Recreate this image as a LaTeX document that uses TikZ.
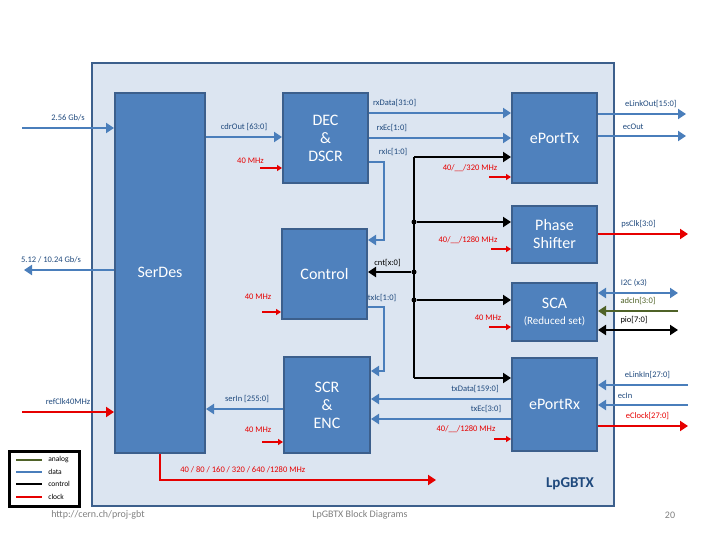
\documentclass[tikz,border=0pt]{standalone}
\usepackage{fontspec}
\setmainfont{Carlito}
\usetikzlibrary{arrows.meta,positioning}
\definecolor{bgblue}{RGB}{220,229,241}
\definecolor{edgeblue}{RGB}{60,95,140}
\definecolor{blockblue}{RGB}{79,129,189}
\definecolor{datablue}{RGB}{74,126,187}
\definecolor{labelblue}{RGB}{31,73,125}
\definecolor{clkred}{RGB}{230,0,0}
\definecolor{analog}{RGB}{79,98,40}
\begin{document}
\begin{tikzpicture}[x=1pt,y=-1pt,
    block/.style={draw=edgeblue, line width=2pt, fill=blockblue, text=white, font=\fontsize{16}{18}\selectfont, align=center, anchor=north west},
    data/.style={datablue, line width=2.5pt, -{Triangle[length=8pt,width=10pt]}},
    ctrl/.style={black, line width=2.5pt, -{Triangle[length=8pt,width=10pt]}},
    clk/.style={clkred, line width=2.5pt, -{Triangle[length=8pt,width=10pt]}},
    clkin/.style={clkred, line width=2pt, -{Triangle[length=5pt,width=6pt]}},
    dlab/.style={text=labelblue, font=\fontsize{8.5}{9}\selectfont},
    clab/.style={text=clkred, font=\fontsize{8.5}{9}\selectfont},
    klab/.style={text=black, font=\fontsize{8.5}{9}\selectfont},
    dot/.style={circle, fill=black, inner sep=0pt, minimum size=5pt}]
    \useasboundingbox (0,0) rectangle (720,540);
    % chip outline
    \node[draw=edgeblue, line width=2pt, fill=bgblue, minimum width=522pt, minimum height=443pt, anchor=north west] (chip) at (91,62) {};
    \node[text=labelblue, font=\bfseries\fontsize{15}{17}\selectfont] (chipname) at (570,484) {LpGBTX};

    % blocks
    \node[block, minimum width=90pt, minimum height=360pt] (serdes) at (114,92) {};
    \node[text=white, font=\fontsize{16}{18}\selectfont] (serdeslab) at (160,272) {SerDes};
    \node[block, minimum width=85pt, minimum height=90pt] (dec) at (282,92) {DEC\\\&\\DSCR};
    \node[block, minimum width=85pt, minimum height=90pt] (control) at (281,228) {Control};
    \node[block, minimum width=86pt, minimum height=96pt] (scr) at (283,356) {SCR\\\&\\ENC};
    \node[block, minimum width=85pt, minimum height=90pt] (eporttx) at (511,92) {ePortTx};
    \node[block, minimum width=85pt, minimum height=57pt] (phase) at (511,205) {Phase\\Shifter};
    \node[block, minimum width=85pt, minimum height=58pt] (sca) at (511,282) {SCA\\[-2pt]{\fontsize{11}{13}\selectfont (Reduced set)}};
    \node[block, minimum width=85pt, minimum height=93pt] (eportrx) at (511,357) {ePortRx};

    % free ends
    \coordinate (inrx) at (22,128);
    \coordinate (outtx) at (24,270);
    \coordinate (inref) at (22,412);
    \coordinate (bustop) at (414,157);
    \coordinate (busbot) at (414,378);
    \coordinate (clkend) at (436,480);

    % SerDes ports
    \draw[data] (inrx) -- (serdes.west|-inrx) node[dlab, midway, above=3pt] {2.56 Gb/s};
    \draw[data] (serdes.west|-outtx) -- (outtx) node[dlab, pos=0.7, above=3pt] {5.12 / 10.24 Gb/s};
    \draw[clk] (inref) -- (serdes.west|-inref) node[dlab, midway, above=3pt] {refClk40MHz};
    \draw[clk] (serdes.south) -- (serdes.south|-clkend) -- (clkend)
      node[clab, pos=0.3, above=3pt] {40 / 80 / 160 / 320 / 640 /1280 MHz};

    % receive path
    \draw[data] (serdes.east|-0,137) -- (dec.west|-0,137) node[dlab, midway, above=2pt] {cdrOut [63:0]};
    \draw[clkin] (260,168) -- (dec.west|-0,168) node[clab, pos=0, above left=0pt and -8pt] {40 MHz};
    \draw[data] (dec.east|-0,113) -- (eporttx.west|-0,113) node[dlab, pos=0.18, above=2pt] {rxData[31:0]};
    \draw[data] (dec.east|-0,138) -- (eporttx.west|-0,138) node[dlab, pos=0.16, above=2pt] {rxEc[1:0]};
    \draw[data] (dec.east|-0,162) -- (384,162) -- (384,240) -- (control.east|-0,240);
    \node[dlab] (rxic) at (393,152) {rxIc[1:0]};

    % control bus
    \draw[black, line width=2.5pt] (bustop) -- (busbot);
    \draw[ctrl] (bustop) -- (eporttx.west|-bustop);
    \draw[ctrl] (busbot) -- (eportrx.west|-busbot);
    \node[dot] (j1) at (414,222) {};
    \node[dot] (j2) at (414,272) {};
    \node[dot] (j3) at (414,300) {};
    \draw[ctrl] (j1) -- (phase.west|-j1);
    \draw[ctrl] (j2) -- (control.east|-j2) node[klab, pos=0.55, above=1pt] {cnt[x:0]};
    \draw[ctrl] (j3) -- (sca.west|-j3);

    % clocks into blocks
    \draw[clkin] (489,177) -- (eporttx.west|-0,177);
    \node[clab] (ctx) at (470,168) {40/\_\_/320 MHz};
    \draw[clkin] (491,249) -- (phase.west|-0,249);
    \node[clab] (cph) at (468,240) {40/\_\_/1280 MHz};
    \draw[clkin] (489,327) -- (sca.west|-0,327);
    \node[clab] (csca) at (488,318) {40 MHz};
    \draw[clkin] (494,439) -- (eportrx.west|-0,439);
    \node[clab] (crx) at (466,429) {40/\_\_/1280 MHz};
    \draw[clkin] (262,312) -- (control.west|-0,312);
    \node[clab] (cctl) at (258,297) {40 MHz};
    \draw[clkin] (262,442) -- (scr.west|-0,442);
    \node[clab] (cscr) at (258,430) {40 MHz};

    % transmit path
    \draw[data] (control.east|-0,307) -- (384,307) -- (384,371) -- (scr.east|-0,371);
    \node[dlab] (txic) at (382,298) {txIc[1:0]};
    \draw[data] (scr.west|-0,409) -- (serdes.east|-0,409);
    \node[dlab] (serin) at (247,399) {serIn [255:0]};
    \draw[data] (eportrx.west|-0,399) -- (scr.east|-0,399);
    \node[dlab] (txdata) at (475,389) {txData[159:0]};
    \draw[data] (eportrx.west|-0,419) -- (scr.east|-0,419);
    \node[dlab] (txec) at (486,409) {txEc[3:0]};

    % external ports
    \draw[data] (eporttx.east|-0,114) -- (686,114) node[dlab, pos=0.6, above=2pt] {eLinkOut[15:0]};
    \draw[data] (eporttx.east|-0,136) -- (686,136) node[dlab, pos=0.4, above=2pt] {ecOut};
    \draw[clk] (phase.east|-0,234) -- (688,234) node[dlab, pos=0.45, above=2pt] {psClk[3:0]};
    \draw[data, {Triangle[length=8pt,width=10pt]}-{Triangle[length=8pt,width=10pt]}] (sca.east|-0,293) -- (678,293) node[dlab, pos=0.45, above=2pt] {I2C (x3)};
    \draw[analog, line width=2.5pt, -{Triangle[length=8pt,width=10pt]}] (678,311) -- (sca.east|-0,311) node[text=analog, font=\fontsize{8.5}{9}\selectfont, pos=0.5, above=2pt] {adcIn[3:0]};
    \draw[ctrl, {Triangle[length=8pt,width=10pt]}-{Triangle[length=8pt,width=10pt]}] (sca.east|-0,330) -- (678,330) node[klab, pos=0.45, above=2pt] {pio[7:0]};
    \draw[data] (688,385) -- (eportrx.east|-0,385) node[dlab, pos=0.45, above=2pt] {eLinkIn[27:0]};
    \draw[data] (688,405) -- (eportrx.east|-0,405) node[dlab, pos=0.7, above=2pt] {ecIn};
    \draw[clk] (eportrx.east|-0,426) -- (688,426) node[clab, pos=0.55, above=2pt] {eClock[27:0]};

    % legend
    \node[draw=black, line width=2.5pt, fill=white, minimum width=70pt, minimum height=55pt, anchor=north west] (legend) at (8,450) {};
    \foreach \y/\c/\t in {460/analog/analog, 472/datablue/data, 484/black/control, 497/clkred/clock}
      \draw[\c, line width=2pt] (16,\y) -- (42,\y) node[right=2pt, text=black, font=\fontsize{7.5}{8}\selectfont] {\t};

    % footer
    \node[text=gray, font=\fontsize{10}{11}\selectfont] (url) at (98,515) {http://cern.ch/proj-gbt};
    \node[text=gray, font=\fontsize{10}{11}\selectfont] (title) at (360,515) {LpGBTX Block Diagrams};
    \node[text=gray, font=\fontsize{10}{11}\selectfont] (page) at (670,515) {20};
\end{tikzpicture}
\end{document}
